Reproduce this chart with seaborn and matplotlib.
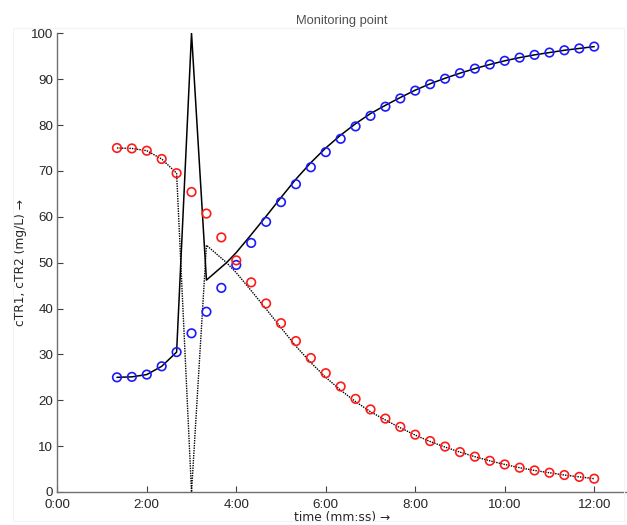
import numpy as np
import pandas as pd
import matplotlib
matplotlib.use("Agg")
import matplotlib.pyplot as plt
from matplotlib.ticker import FuncFormatter, MultipleLocator
from matplotlib.patches import Rectangle
import seaborn as sns

sns.set_theme(style="white")
FONTS = ['Liberation Sans', 'DejaVu Sans']
plt.rcParams['font.family'] = FONTS

# measured samples (every 20 s from 1:20 to 12:00)
sample_time = [80, 100, 120, 140, 160, 180, 200, 220, 240, 260, 280, 300, 320, 340, 360, 380,
               400, 420, 440, 460, 480, 500, 520, 540, 560, 580, 600, 620, 640, 660, 680, 700, 720]
ctr1_samples = [25.0, 25.1, 25.6, 27.4, 30.5, 34.6, 39.3, 44.5, 49.5, 54.3, 58.9, 63.2, 67.1, 70.8,
                74.1, 77.0, 79.7, 82.0, 84.0, 85.8, 87.5, 88.9, 90.1, 91.3, 92.3, 93.2, 94.0, 94.7,
                95.3, 95.8, 96.3, 96.7, 97.1]
ctr2_samples = [75.0, 74.9, 74.4, 72.6, 69.5, 65.4, 60.7, 55.5, 50.5, 45.7, 41.1, 36.8, 32.9, 29.2,
                25.9, 23.0, 20.3, 18.0, 16.0, 14.2, 12.5, 11.1, 9.9, 8.7, 7.7, 6.8, 6.0, 5.3,
                4.7, 4.2, 3.7, 3.3, 2.9]

# model curves
model_time = [80, 100, 120, 140, 160, 180, 200, 227, 240, 260, 280, 300, 320, 340, 360, 380,
              400, 420, 440, 460, 480, 500, 520, 540, 560, 580, 600, 620, 640, 660, 680, 700, 720]
ctr1_model = [25.0, 25.1, 25.6, 27.4, 30.5, 100.0, 46.2, 50.0, 52.2, 56.1, 60.1, 64.2, 68.2, 71.8,
              75.0, 77.8, 80.3, 82.5, 84.3, 86.0, 87.6, 89.0, 90.2, 91.3, 92.3, 93.2, 94.0, 94.7,
              95.3, 95.8, 96.3, 96.7, 97.1]
ctr2_model = [75.0, 74.9, 74.4, 72.6, 69.5, 0.0, 53.8, 50.0, 47.8, 43.9, 39.9, 35.8, 31.8, 28.2,
              25.0, 22.2, 19.7, 17.5, 15.7, 14.0, 12.4, 11.0, 9.8, 8.7, 7.7, 6.8, 6.0, 5.3,
              4.7, 4.2, 3.7, 3.3, 2.9]

fig = plt.figure(figsize=(6.27, 5.25), dpi=100)
fig.patches.append(Rectangle((13 / 627, 4 / 525), 611 / 627, 493 / 525, transform=fig.transFigure,
                             fill=False, edgecolor='#f3f3f3', lw=0.8))
ax = fig.add_axes([57.3 / 627, 33 / 525, 569.7 / 627, 458.7 / 525])

sns.lineplot(x=model_time, y=ctr1_model, ax=ax, color='black', lw=1.1)
sns.lineplot(x=model_time, y=ctr2_model, ax=ax, color='black', lw=1.0, linestyle=(0, (1, 0.8)))
sns.scatterplot(x=sample_time, y=ctr1_samples, ax=ax, marker='o', s=38, facecolors='none',
                edgecolor='#1a1aff', linewidth=1.2, zorder=3)
sns.scatterplot(x=sample_time, y=ctr2_samples, ax=ax, marker='o', s=38, facecolors='none',
                edgecolor='#ff1a1a', linewidth=1.2, zorder=3)

ax.set_xlim(0, 764)
ax.set_ylim(0, 100)
ax.xaxis.set_major_locator(MultipleLocator(120))
ax.yaxis.set_major_locator(MultipleLocator(10))
ax.xaxis.set_major_formatter(FuncFormatter(lambda v, p: f"{int(v) // 60}:{int(v) % 60:02d}"))

for side in ['top', 'right']:
    ax.spines[side].set_visible(False)
for side in ['left', 'bottom']:
    ax.spines[side].set_color('#707070')
    ax.spines[side].set_linewidth(1.0)
ax.tick_params(direction='in', length=4, width=0.8, color='#404040', labelsize=9.6,
               labelcolor='#262626', left=True, bottom=True)
ax.tick_params(axis='x', pad=5)
ax.tick_params(axis='y', pad=3)

ax.set_title('Monitoring point', fontsize=9.3, color='#505050', pad=7)
ax.set_xlabel('time (mm:ss) \u2192', fontsize=8.8, color='#262626', labelpad=0,
              family='DejaVu Sans')
ax.set_ylabel('cTR1, cTR2 (mg/L) \u2192', fontsize=8.8, color='#262626', labelpad=3,
              family='DejaVu Sans')

fig.savefig('out.png', dpi=100)
